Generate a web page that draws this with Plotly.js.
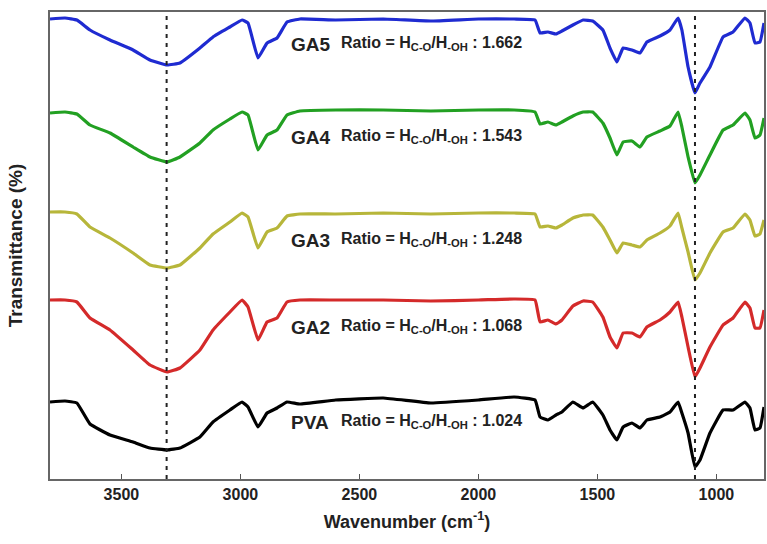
<!DOCTYPE html>
<html>
<head>
<meta charset="utf-8">
<script src="https://cdn.plot.ly/plotly-3.0.1.min.js"></script>
<style>html,body{margin:0;padding:0;background:#fff;}#chart{width:767px;height:544px;}</style>
</head>
<body>
<div id="chart"></div>
<script>
// Wavenumber sample points (cm^-1)
const wavenumber = [3800,3737,3687,3632,3548,3451,3380,3308,3254,3170,3115,3044,2993,2968,2926,2888,2846,2804,2750,2600,2400,2200,2000,1850,1762,1741,1708,1674,1649,1603,1560,1520,1477,1447,1418,1392,1355,1321,1292,1237,1195,1161,1145,1119,1090,1069,1027,972,930,880,859,838,817,800];

// Offset (stacked) transmittance, arbitrary units
const ga5 = [461,462,460,450,440,430,420,415,417,432,443,453,460,457,422,437,442,458,461,460,461,459,461,461,460,447,448,446,449,455,460,459,450,432,418,432,430,427,438,444,450,462,450,413,387,397,413,443,448,462,457,437,438,457];
const ga4 = [367,368,366,355,347,333,323,318,323,337,350,361,368,365,330,345,350,365,369,370,370,369,370,370,368,356,358,355,358,364,368,368,357,342,325,338,339,333,343,349,354,368,353,323,297,305,325,350,355,367,360,342,345,362];
const ga3 = [268,268,266,253,242,227,215,212,215,232,246,258,267,263,232,248,252,264,266,266,267,266,267,267,266,253,254,252,255,262,265,265,253,240,227,237,235,233,240,247,254,267,252,228,200,207,227,248,252,266,260,244,246,260];
const ga2 = [180,180,178,162,150,130,115,108,112,130,150,168,180,173,140,158,162,178,180,180,180,179,180,181,180,158,160,156,160,174,179,178,163,143,132,147,147,143,153,160,168,178,163,133,103,112,133,155,162,178,172,152,152,170];
const pva = [78,79,77,56,45,38,32,30,32,43,58,70,78,73,53,67,72,78,76,80,82,77,80,83,80,63,60,65,68,78,72,78,65,50,40,53,57,52,60,63,68,78,67,47,13,20,47,70,70,78,72,50,52,73];

const seriesNames = ['GA5','GA4','GA3','GA2','PVA'];
const ratios = ['1.662','1.543','1.248','1.068','1.024'];
const labelY = [436,343,240,153,58];
const tickVals = [3500,3000,2500,2000,1500,1000];
const markerLines = [3310,1090];

const colors = ['#1f2bd1','#22a022','#b7b63a','#d42a2a','#000000'];
const data = [ga5,ga4,ga3,ga2,pva];

const traces = data.map((y,i)=>({
  x: wavenumber, y: y, type:'scatter', mode:'lines', name: seriesNames[i],
  line:{color:colors[i], width:3.2, shape:'spline', smoothing:0.3}, showlegend:false, hoverinfo:'skip'
}));

const fontFam = 'Liberation Sans, Arial, sans-serif';
const annotations = [];
seriesNames.forEach((n,i)=>{
  annotations.push({x:2795, y:labelY[i], xref:'x', yref:'y', text:'<b>'+n+'</b>', showarrow:false, xanchor:'left', yanchor:'middle', font:{family:fontFam, size:19, color:'#222'}});
  annotations.push({x:2585, y:labelY[i]+1, xref:'x', yref:'y', text:'<b>Ratio = H<sub>C-O</sub>/H<sub>-OH</sub> : '+ratios[i]+'</b>', showarrow:false, xanchor:'left', yanchor:'middle', font:{family:fontFam, size:16, color:'#222'}});
});

const shapes = markerLines.map(v=>({type:'line', xref:'x', yref:'paper', x0:v, x1:v, y0:0, y1:1, line:{color:'#222', width:2, dash:'4px,5px'}}));

const layout = {
  width:767, height:544,
  margin:{l:50, r:3, t:12, b:65},
  paper_bgcolor:'#fff', plot_bgcolor:'#fff',
  xaxis:{range:[3800,800], tickvals:tickVals, ticktext:tickVals.map(String), ticks:'inside', ticklen:5, tickwidth:1.5, tickcolor:'#555',
    showline:true, mirror:true, linecolor:'#666', linewidth:2, showgrid:false, zeroline:false,
    tickfont:{family:fontFam, size:16, color:'#222', weight:'bold'},
    title:{text:'<b>Wavenumber (cm<sup>-1</sup>)</b>', font:{family:fontFam, size:18, color:'#222'}, standoff:13}},
  yaxis:{range:[1,468], showticklabels:false, ticks:'', showline:true, mirror:true, linecolor:'#666', linewidth:2, showgrid:false, zeroline:false,
    title:{text:'<b>Transmittance (%)</b>', font:{family:fontFam, size:19, color:'#222'}, standoff:20}},
  annotations: annotations,
  shapes: shapes
};

Plotly.newPlot('chart', traces, layout, {displayModeBar:false, staticPlot:true});
</script>
</body>
</html>
